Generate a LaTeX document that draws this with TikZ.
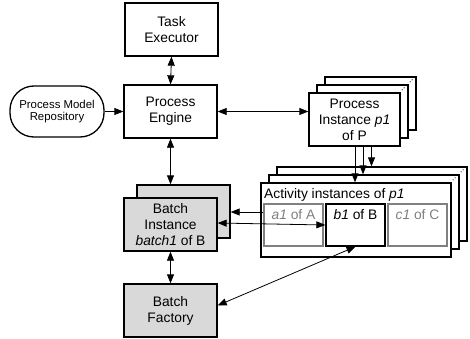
\documentclass[tikz,border=0pt]{standalone}
\usepackage{fontspec}
\setmainfont{Liberation Sans}
\usetikzlibrary{arrows.meta,calc}
\definecolor{boxgray}{HTML}{D9D9D9}
\definecolor{dimgray}{HTML}{808080}
\begin{document}
\begin{tikzpicture}[x=1pt,y=-1pt,
  >={Triangle[length=9pt,width=7pt]},
  lbl/.style={font=\fontsize{13.8}{16}\selectfont},
  box/.style={draw, line width=1.3pt, minimum width=93pt, minimum height=53pt,
    inner sep=0pt, align=center, lbl},
  gbox/.style={box, fill=boxgray},
  pibox/.style={draw, fill=white, line width=1.3pt, minimum width=91pt,
    minimum height=53pt, inner sep=0pt, align=center, lbl},
  actbox/.style={draw, fill=white, line width=1.3pt, minimum width=190pt,
    minimum height=74pt, inner sep=0pt},
  inbox/.style={draw, line width=1.3pt, minimum width=59pt, minimum height=42pt, inner sep=0pt},
  repo/.style={draw, line width=1.3pt, rounded corners=24pt, minimum width=94pt,
    minimum height=51pt, inner sep=0pt, align=center,
    font=\fontsize{11.4}{12.5}\selectfont},
  conn/.style={line width=0.8pt, ->},
  biconn/.style={line width=0.8pt, <->},
  cornerdot/.style={fill=black, circle, inner sep=0pt, minimum size=1.2pt}
]
\useasboundingbox (0,0) rectangle (470,339);

% engine and its neighbours
\node[box] (te) at (171.5,29.5) {Task\\Executor};
\node[box] (pe) at (170.5,111.5) {Process\\Engine};
\node[repo] (pmr) at (57,111.5) {Process Model\\Repository};

% stacked process instances
\node[pibox] (pi2) at (370.5,103.5) {};
\node[pibox] (pi1) at (362.5,111.5) {};
\node[pibox] (pi) at (354.5,119.5) {Process\\Instance \textit{p1}\\of P};
\foreach \b in {pi1,pi2}{
  \node[cornerdot] (\b d1) at ($(\b.north east)+(-4.5,3.5)$) {};
  \node[cornerdot] (\b d2) at ($(\b.north east)+(-6.5,5.5)$) {};
}

% stacked activity instances
\node[actbox] (act2) at (372,204) {};
\node[actbox] (act1) at (364,212) {};
\node[actbox] (act) at (356,220) {};
\foreach \b in {act1,act2}{
  \node[cornerdot] (\b d1) at ($(\b.north east)+(-4.5,3.5)$) {};
  \node[cornerdot] (\b d2) at ($(\b.north east)+(-6.5,5.5)$) {};
}
\node[lbl, anchor=base west, inner sep=0pt] (acttitle) at (264,198) {Activity instances of \textit{p1}};
\node[inbox, draw=dimgray] (a1) at (293.5,225) {};
\node[inbox] (b1) at (355.5,225) {};
\node[inbox, draw=dimgray] (c1) at (417.5,225) {};
\node[lbl, anchor=base, text=dimgray, inner sep=0pt] (a1t) at ([yshift=-16pt]a1.north) {\textit{a1} of A};
\node[lbl, anchor=base, inner sep=0pt] (b1t) at ([yshift=-16pt]b1.north) {\textit{b1} of B};
\node[lbl, anchor=base, text=dimgray, inner sep=0pt] (c1t) at ([yshift=-16pt]c1.north) {\textit{c1} of C};

% batch instance and factory
\node[gbox] (bib) at (183.5,211.5) {};
\node[gbox] (bi) at (170.5,224.5) {Batch\\Instance\\\textit{batch1} of B};
\node[gbox] (bf) at (170.5,310.5) {Batch\\Factory};

% connectors
\draw[biconn] (te.south) -- (pe.north);
\draw[conn] (pmr.east) -- (pe.west);
\draw[biconn] (pe.east) -- (pe.east -| pi.west);
\draw[biconn] (pe.south) -- (pe.south |- bib.north);
\draw[biconn] (bi.south) -- (bf.north);

\coordinate (p0) at ([xshift=0.5pt]pi.south);
\coordinate (p1) at ([xshift=8.5pt]pi.south);
\coordinate (p2) at ([xshift=17pt]pi.south);
\draw[conn] (p0) -- (p0 |- act.north);
\draw[conn] (p1) -- (p1 |- act1.north);
\draw[conn] (p2) -- (p2 |- act2.north);

\coordinate (q) at ([yshift=13pt]a1.west);
\draw[conn] (q) -- (q -| bib.east);
\draw[biconn] ([yshift=1.5pt]bi.east) -- (b1.west);
\draw[biconn] ([yshift=5pt]bf.east) -- (b1.south);
\end{tikzpicture}
\end{document}
